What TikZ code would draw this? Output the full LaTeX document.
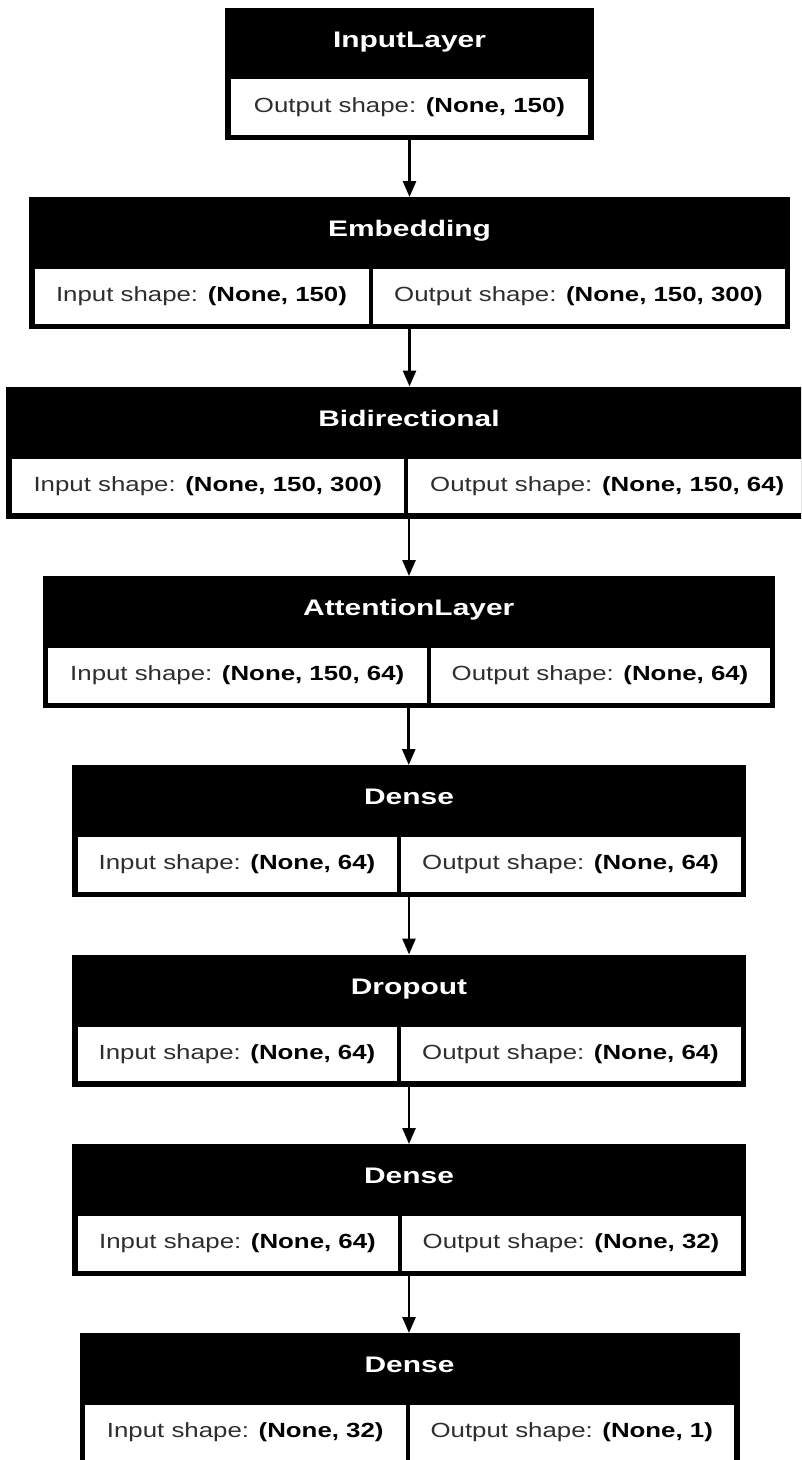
\documentclass[tikz,border=0pt]{standalone}
\usepackage{fontspec}
\setmainfont{Liberation Sans}
\usepackage{graphicx}
\usetikzlibrary{arrows.meta}
\tikzset{
  outerbox/.style={rectangle, fill=black, draw=none, inner sep=0pt, outer sep=0pt},
  cellbox/.style={rectangle, fill=white, draw=none, inner sep=0pt, outer sep=0pt},
  titletxt/.style={anchor=base, inner sep=0pt, text=white, font=\fontsize{22.5}{24}\selectfont\bfseries},
  rowtxt/.style={anchor=base, inner sep=0pt, font=\fontsize{20.5}{22}\selectfont},
  flow/.style={line width=2.7pt, -{Triangle[length=16pt,width=13pt]}},
}
\newcommand\titlestretch[1]{\scalebox{1.33}[1]{#1}}
\newcommand\shapetxt[2]{\scalebox{1.26}[1]{\textcolor{black!82}{#1}\textbf{#2}}}
% #1 name, #2 top, #3 left, #4 right, #5 split, #6 title, #7 input, #8 output
\newcommand\lyr[8]{%
  \pgfmathsetmacro\lyrcx{(#3+#4)/2}%
  \pgfmathsetmacro\lyrw{#4-#3}%
  \pgfmathsetmacro\lyrcy{#2+66}%
  \node[outerbox, minimum width=\lyrw pt, minimum height=132pt] (#1) at (\lyrcx,\lyrcy) {};
  \pgfmathsetmacro\lyrty{#2+39.5}%
  \node[titletxt] (#1t) at (\lyrcx,\lyrty) {\titlestretch{#6}};
  \pgfmathsetmacro\lyrcelly{#2+99.25}%
  \pgfmathsetmacro\lyrrowy{#2+104.5}%
  \pgfmathsetmacro\lyrla{#3+5.5}%
  \pgfmathsetmacro\lyrlb{#5-2}%
  \pgfmathsetmacro\lyrlc{(\lyrla+\lyrlb)/2}%
  \pgfmathsetmacro\lyrlw{\lyrlb-\lyrla}%
  \node[cellbox, minimum width=\lyrlw pt, minimum height=54.5pt] (#1l) at (\lyrlc,\lyrcelly) {};
  \node[rowtxt] (#1lt) at (\lyrlc,\lyrrowy) {\shapetxt{Input shape: }{#7}};
  \pgfmathsetmacro\lyrra{#5+2}%
  \pgfmathsetmacro\lyrrb{#4-5.5}%
  \pgfmathsetmacro\lyrrc{(\lyrra+\lyrrb)/2}%
  \pgfmathsetmacro\lyrrw{\lyrrb-\lyrra}%
  \node[cellbox, minimum width=\lyrrw pt, minimum height=54.5pt] (#1r) at (\lyrrc,\lyrcelly) {};
  \node[rowtxt] (#1rt) at (\lyrrc,\lyrrowy) {\shapetxt{Output shape: }{#8}};
}
\begin{document}
\begin{tikzpicture}[x=1pt,y=-1pt]
\clip (0,0) rectangle (801,1460);
\fill[white] (0,0) rectangle (801,1460);
% InputLayer
\node[outerbox, minimum width=369pt, minimum height=132pt] (l0) at (409.5,74) {};
\node[titletxt] (l0t) at (409.5,47.5) {\titlestretch{InputLayer}};
\node[cellbox, minimum width=357pt, minimum height=55.5pt] (l0c) at (409.5,106.75) {};
\node[rowtxt] (l0ct) at (409.5,112.5) {\shapetxt{Output shape: }{(None, 150)}};
% other layers
\lyr{l1}{197}{29}{790}{370.5}{Embedding}{(None, 150)}{(None, 150, 300)}
\lyr{l2}{386.5}{6}{812}{406}{Bidirectional}{(None, 150, 300)}{(None, 150, 64)}
\lyr{l3}{576}{42.5}{775}{428.5}{AttentionLayer}{(None, 150, 64)}{(None, 64)}
\lyr{l4}{765}{72}{746}{398.5}{Dense}{(None, 64)}{(None, 64)}
\lyr{l5}{954.5}{72}{746}{398.5}{Dropout}{(None, 64)}{(None, 64)}
\lyr{l6}{1144}{72}{746}{399.5}{Dense}{(None, 64)}{(None, 32)}
\lyr{l7}{1333}{79.5}{739.5}{407.5}{Dense}{(None, 32)}{(None, 1)}
% connectors
\draw[flow] (l0.south) -- (l0.south |- l1.north);
\draw[flow] (l1.south) -- (l1.south |- l2.north);
\draw[flow] (l2.south) -- (l2.south |- l3.north);
\draw[flow] (l3.south) -- (l3.south |- l4.north);
\draw[flow] (l4.south) -- (l4.south |- l5.north);
\draw[flow] (l5.south) -- (l5.south |- l6.north);
\draw[flow] (l6.south) -- (l6.south |- l7.north);
\end{tikzpicture}
\end{document}
